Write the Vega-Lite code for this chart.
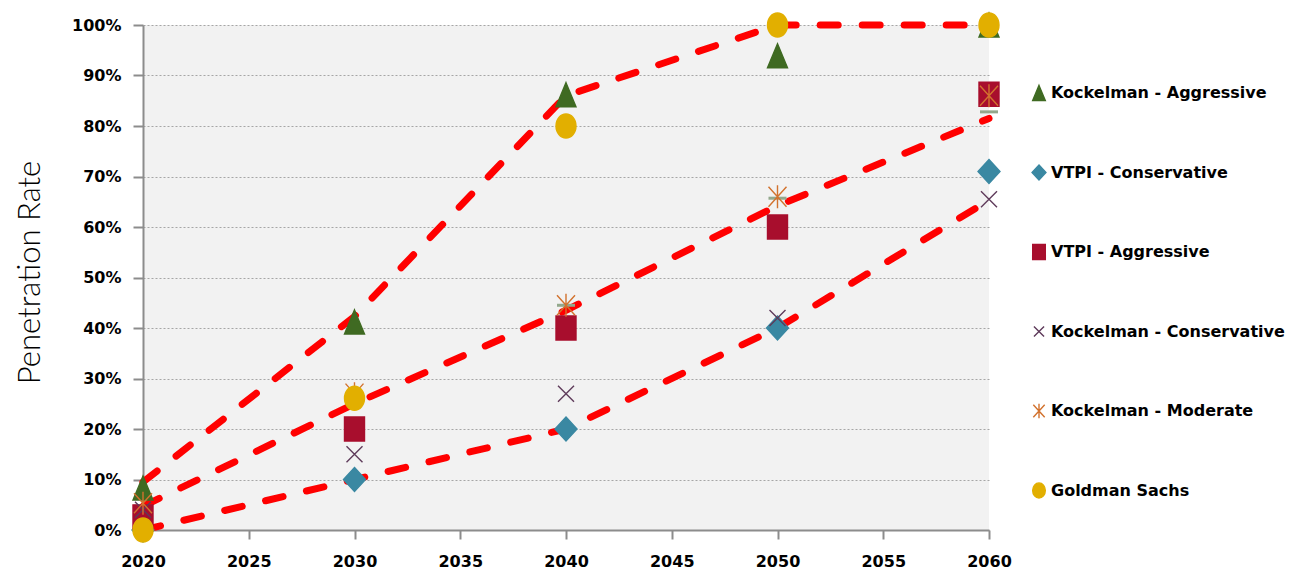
{
  "$schema": "https://vega.github.io/schema/vega-lite/v6.json",
  "width": 846,
  "height": 505,
  "autosize": {"type": "none"},
  "padding": {"left": 143, "top": 25, "right": 305, "bottom": 42},
  "background": "white",
  "config": {
    "view": {"fill": "#F2F2F2", "stroke": null},
    "font": "DejaVu Sans"
  },
  "datasets": {
    "trend": [
      {"line": "A", "year": 2020, "value": 0.095},
      {"line": "A", "year": 2030, "value": 0.423},
      {"line": "A", "year": 2040, "value": 0.86},
      {"line": "A", "year": 2050, "value": 1.0},
      {"line": "A", "year": 2060, "value": 1.0},
      {"line": "B", "year": 2020, "value": 0.047},
      {"line": "B", "year": 2030, "value": 0.25},
      {"line": "B", "year": 2040, "value": 0.435},
      {"line": "B", "year": 2050, "value": 0.642},
      {"line": "B", "year": 2060, "value": 0.815},
      {"line": "C", "year": 2020, "value": 0.0},
      {"line": "C", "year": 2030, "value": 0.10},
      {"line": "C", "year": 2040, "value": 0.20},
      {"line": "C", "year": 2050, "value": 0.40},
      {"line": "C", "year": 2060, "value": 0.653}
    ],
    "extra": [
      {"year": 2020, "value": 0.047},
      {"year": 2030, "value": 0.26},
      {"year": 2040, "value": 0.445},
      {"year": 2050, "value": 0.657},
      {"year": 2060, "value": 0.828}
    ],
    "points": [
      {"series": "VTPI - Conservative", "year": 2020, "value": 0.0},
      {"series": "VTPI - Conservative", "year": 2030, "value": 0.10},
      {"series": "VTPI - Conservative", "year": 2040, "value": 0.20},
      {"series": "VTPI - Conservative", "year": 2050, "value": 0.40},
      {"series": "VTPI - Conservative", "year": 2060, "value": 0.71},
      {"series": "Kockelman - Aggressive", "year": 2020, "value": 0.083},
      {"series": "Kockelman - Aggressive", "year": 2030, "value": 0.412},
      {"series": "Kockelman - Aggressive", "year": 2040, "value": 0.862},
      {"series": "Kockelman - Aggressive", "year": 2050, "value": 0.939},
      {"series": "Kockelman - Aggressive", "year": 2060, "value": 1.0},
      {"series": "VTPI - Aggressive", "year": 2020, "value": 0.026},
      {"series": "VTPI - Aggressive", "year": 2030, "value": 0.20},
      {"series": "VTPI - Aggressive", "year": 2040, "value": 0.40},
      {"series": "VTPI - Aggressive", "year": 2050, "value": 0.60},
      {"series": "VTPI - Aggressive", "year": 2060, "value": 0.863},
      {"series": "Kockelman - Conservative", "year": 2020, "value": 0.04},
      {"series": "Kockelman - Conservative", "year": 2030, "value": 0.15},
      {"series": "Kockelman - Conservative", "year": 2040, "value": 0.27},
      {"series": "Kockelman - Conservative", "year": 2050, "value": 0.42},
      {"series": "Kockelman - Conservative", "year": 2060, "value": 0.655},
      {"series": "Kockelman - Moderate", "year": 2020, "value": 0.053},
      {"series": "Kockelman - Moderate", "year": 2030, "value": 0.27},
      {"series": "Kockelman - Moderate", "year": 2040, "value": 0.445},
      {"series": "Kockelman - Moderate", "year": 2050, "value": 0.66},
      {"series": "Kockelman - Moderate", "year": 2060, "value": 0.86},
      {"series": "Goldman Sachs", "year": 2020, "value": 0.0},
      {"series": "Goldman Sachs", "year": 2030, "value": 0.261},
      {"series": "Goldman Sachs", "year": 2040, "value": 0.80},
      {"series": "Goldman Sachs", "year": 2050, "value": 1.0},
      {"series": "Goldman Sachs", "year": 2060, "value": 1.0}
    ]
  },
  "encoding": {
    "x": {
      "field": "year", "type": "quantitative",
      "scale": {"domain": [2020, 2060], "nice": false, "zero": false},
      "axis": {
        "title": null, "values": [2020, 2025, 2030, 2035, 2040, 2045, 2050, 2055, 2060],
        "format": "d", "grid": false,
        "labelFont": "DejaVu Sans", "labelFontWeight": "bold", "labelFontSize": 16, "labelColor": "#000000",
        "labelPadding": 14,
        "domainColor": "#8C8C8C", "domainWidth": 2,
        "tickColor": "#8C8C8C", "tickWidth": 2, "tickSize": 9,
        "labelFlush": false, "labelOverlap": false
      }
    },
    "y": {
      "field": "value", "type": "quantitative",
      "scale": {"domain": [0, 1], "nice": false},
      "axis": {
        "title": "Penetration Rate",
        "values": [0, 0.1, 0.2, 0.3, 0.4, 0.5, 0.6, 0.7, 0.8, 0.9, 1.0],
        "format": ".0%",
        "labelFont": "DejaVu Sans", "labelFontWeight": "bold", "labelFontSize": 16, "labelColor": "#000000",
        "labelPadding": 12,
        "domainColor": "#8C8C8C", "domainWidth": 2,
        "tickColor": "#8C8C8C", "tickWidth": 2, "tickSize": 10,
        "grid": true, "gridColor": "#A6A6A6", "gridDash": [2, 2], "gridWidth": 1,
        "titleFont": "Lato", "titleFontWeight": 300, "titleFontSize": 31, "titleColor": "#000000",
        "titleX": -113, "titleY": 247, "titleAlign": "center", "titleBaseline": "middle", "titleAngle": -90,
        "labelFlush": false, "labelOverlap": false
      }
    }
  },
  "layer": [
    {
      "data": {"name": "trend"},
      "mark": {"type": "line", "color": "#FF0000", "strokeWidth": 7, "strokeDash": [18, 24], "strokeCap": "round", "strokeJoin": "round", "interpolate": "linear"},
      "encoding": {"detail": {"field": "line"}}
    },
    {
      "data": {"name": "extra"},
      "mark": {"type": "point", "filled": true, "opacity": 1, "color": "#93A88C", "size": 100, "shape": "M-1.8,-0.3L1.8,-0.3L1.8,0.3L-1.8,0.3Z"},
      "encoding": {}
    },
    {
      "data": {"name": "points"},
      "mark": {"type": "point", "filled": true, "opacity": 1, "size": 400, "strokeWidth": 1.4},
      "encoding": {
        "color": {
          "field": "series", "type": "nominal",
          "scale": {
            "domain": ["Kockelman - Aggressive", "VTPI - Conservative", "VTPI - Aggressive", "Kockelman - Conservative", "Kockelman - Moderate", "Goldman Sachs"],
            "range": ["#3F6A22", "#3A88A2", "#A80E2D", "#5E3A5A", "#D2722E", "#E2AF00"]
          },
          "legend": {
            "title": null, "orient": "none", "legendX": 888, "legendY": 58,
            "labelFont": "DejaVu Sans", "labelFontWeight": "bold", "labelFontSize": 16, "labelColor": "#000000",
            "labelOffset": 4, "labelLimit": 400, "rowPadding": 59.5, "clipHeight": 20, "symbolSize": 160, "symbolStrokeWidth": 1.4,
            "symbolOpacity": 1
          }
        },
        "stroke": {
          "field": "series", "type": "nominal",
          "scale": {
            "domain": ["Kockelman - Aggressive", "VTPI - Conservative", "VTPI - Aggressive", "Kockelman - Conservative", "Kockelman - Moderate", "Goldman Sachs"],
            "range": ["#3F6A22", "#3A88A2", "#A80E2D", "#5E3A5A", "#D2722E", "#E2AF00"]
          }
        },
        "shape": {
          "field": "series", "type": "nominal",
          "scale": {
            "domain": ["Kockelman - Aggressive", "VTPI - Conservative", "VTPI - Aggressive", "Kockelman - Conservative", "Kockelman - Moderate", "Goldman Sachs"],
            "range": [
              "M0,-1.2L1,1.2L-1,1.2Z",
              "M0,-1.2L1.1,0L0,1.2L-1.1,0Z",
              "M-1,-1.2L1,-1.2L1,1.2L-1,1.2Z",
              "M-0.8,-0.8L0.8,0.8M-0.8,0.8L0.8,-0.8",
              "M-0.9,-1L0.9,1M-0.9,1L0.9,-1M0,-1.15L0,1.15",
              "M0,-1.2A1,1.2 0 1,1 0,1.2A1,1.2 0 1,1 0,-1.2Z"
            ]
          }
        }
      }
    }
  ]
}
